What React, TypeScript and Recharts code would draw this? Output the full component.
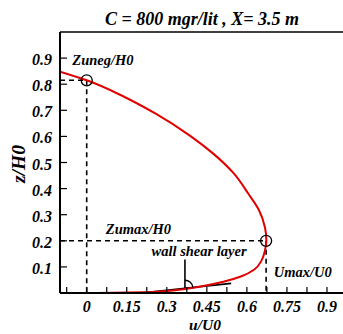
import {
  ComposedChart,
  Line,
  XAxis,
  YAxis,
  ReferenceLine,
  ReferenceDot,
} from "recharts";

// velocity profile, read from top (z/H0 ~ 0.85) down to the bed
const profileU = [
  -0.1, 0, 0.14, 0.26, 0.385, 0.474, 0.551, 0.605, 0.645, 0.668, 0.673,
  0.668, 0.655, 0.628, 0.58, 0.512, 0.437, 0.368, 0.29, 0.212, 0.04,
];
const profileZ = [
  0.848, 0.815, 0.752, 0.686, 0.604, 0.534, 0.458, 0.381, 0.318, 0.25, 0.2,
  0.164, 0.125, 0.09, 0.064, 0.043, 0.027, 0.015, 0.007, 0.003, 0.0,
];

const xMajorTicks = [0, 0.15, 0.3, 0.45, 0.6, 0.75, 0.9];
const xMinorTicks = [-0.075, 0.075, 0.225, 0.375, 0.525, 0.675, 0.825];
const yTicks = [0.1, 0.2, 0.3, 0.4, 0.5, 0.6, 0.7, 0.8, 0.9];

const zunegPoint = { u: 0, z: 0.815 };
const umaxPoint = { u: 0.672, z: 0.2 };
const shearTangent = [
  { u: 0.212, z: 0.001 },
  { u: 0.541, z: 0.037 },
];
const shearNormal = [
  { u: 0.368, z: 0.128 },
  { u: 0.368, z: 0.018 },
];
const notes = [
  { text: "Zuneg/H0", u: 0.061, z: 0.893 },
  { text: "Zumax/H0", u: 0.194, z: 0.245 },
  { text: "wall shear layer", u: 0.421, z: 0.159 },
  { text: "Umax/U0", u: 0.809, z: 0.08 },
];

const profile = profileU.map((u, i) => ({ u, z: profileZ[i] }));
const xTicks = [...xMajorTicks, ...xMinorTicks].sort((a, b) => a - b);

const FONT =
  '"Liberation Serif", Tinos, "Times New Roman", Times, "DejaVu Serif", serif';
const serif = {
  fontFamily: FONT,
  fontWeight: 700,
  fontStyle: "italic" as const,
  fill: "#000",
};

const XTick = ({ x, y, payload }: any) => (
  <g>
    <line x1={x} x2={x} y1={y} y2={y - 6} stroke="#000" strokeWidth={1.2} />
    {xMajorTicks.includes(payload.value) && (
      <text
        x={x}
        y={y + 18.5}
        textAnchor="middle"
        fontSize={16}
        fontFamily={FONT}
        style={serif}
      >
        {payload.value}
      </text>
    )}
  </g>
);

const YTick = ({ x, y, payload }: any) => (
  <g>
    <line x1={x} x2={x + 7} y1={y} y2={y} stroke="#000" strokeWidth={1.2} />
    <text
      x={x - 8}
      y={y + 7}
      textAnchor="end"
      fontSize={16}
      fontFamily={FONT}
      style={serif}
    >
      {payload.value}
    </text>
  </g>
);

const dashed = { stroke: "#000", strokeWidth: 1.6, strokeDasharray: "5 4" };

export default function App() {
  return (
    <div
      style={{
        position: "absolute",
        left: 0,
        top: 0,
        width: 343,
        height: 334,
        background: "#fff",
        overflow: "hidden",
      }}
    >
      <ComposedChart
        width={343}
        height={334}
        data={profile}
        margin={{ top: 32, right: 0, left: 0, bottom: 0 }}
      >
        <XAxis
          type="number"
          dataKey="u"
          domain={[-0.1, 0.96]}
          ticks={xTicks}
          interval={0}
          height={41}
          tickSize={0}
          tickMargin={0}
          tickLine={false}
          axisLine={{ stroke: "#000", strokeWidth: 2 }}
          tick={<XTick />}
          allowDataOverflow
        />
        <YAxis
          type="number"
          dataKey="z"
          domain={[0, 1]}
          ticks={yTicks}
          interval={0}
          width={60}
          tickSize={0}
          tickMargin={0}
          tickLine={false}
          axisLine={{ stroke: "#000", strokeWidth: 2 }}
          tick={<YTick />}
          allowDataOverflow
        />
        <ReferenceLine y={1} stroke="#000" strokeWidth={1.5} />

        <ReferenceLine
          segment={[
            { x: -0.1, y: zunegPoint.z },
            { x: zunegPoint.u, y: zunegPoint.z },
          ]}
          {...dashed}
        />
        <ReferenceLine
          segment={[
            { x: zunegPoint.u, y: zunegPoint.z },
            { x: zunegPoint.u, y: 0 },
          ]}
          {...dashed}
        />
        <ReferenceLine
          segment={[
            { x: -0.1, y: umaxPoint.z },
            { x: umaxPoint.u, y: umaxPoint.z },
          ]}
          {...dashed}
        />
        <ReferenceLine
          segment={[
            { x: umaxPoint.u, y: umaxPoint.z },
            { x: umaxPoint.u, y: 0 },
          ]}
          {...dashed}
        />

        <ReferenceLine
          segment={shearTangent.map((p) => ({ x: p.u, y: p.z }))}
          stroke="#000"
          strokeWidth={1.6}
        />
        <ReferenceLine
          segment={shearNormal.map((p) => ({ x: p.u, y: p.z }))}
          stroke="#000"
          strokeWidth={1.6}
        />
        <ReferenceDot
          x={shearNormal[1].u}
          y={shearNormal[1].z}
          r={0}
          shape={(p: any) => (
            <path
              d={`M ${p.cx} ${p.cy - 8} A 8 8 0 0 1 ${p.cx + 7.95} ${p.cy - 0.85}`}
              fill="none"
              stroke="#000"
              strokeWidth={1.4}
            />
          )}
        />

        <Line
          type="monotoneY"
          dataKey="z"
          stroke="#e00000"
          strokeWidth={2}
          dot={false}
          activeDot={false}
          isAnimationActive={false}
        />

        {[zunegPoint, umaxPoint].map((p) => (
          <ReferenceDot
            key={p.u}
            x={p.u}
            y={p.z}
            r={5.5}
            fill="none"
            stroke="#000"
            strokeWidth={1.3}
          />
        ))}

        {notes.map((n) => (
          <ReferenceDot
            key={n.text}
            x={n.u}
            y={n.z}
            r={0}
            shape={(p: any) => (
              <text
                x={p.cx}
                y={p.cy}
                dy="0.33em"
                textAnchor="middle"
                fontSize={14.5}
                fontFamily={FONT}
                style={serif}
              >
                {n.text}
              </text>
            )}
          />
        ))}
      </ComposedChart>

      <svg
        width={343}
        height={334}
        style={{ position: "absolute", left: 0, top: 0, pointerEvents: "none" }}
      >
        <text
          x={202}
          y={24.5}
          textAnchor="middle"
          fontSize={18}
          fontFamily={FONT}
          style={serif}
        >
          C = 800 mgr/lit , X= 3.5 m
        </text>
        <text
          x={205}
          y={330}
          textAnchor="middle"
          fontSize={15.5}
          fontFamily={FONT}
          style={serif}
        >
          u/U0
        </text>
        <text
          x={0}
          y={0}
          transform="translate(24.5 164) rotate(-90)"
          textAnchor="middle"
          fontSize={19.5}
          fontFamily={FONT}
          style={serif}
        >
          z/H0
        </text>
      </svg>
    </div>
  );
}
